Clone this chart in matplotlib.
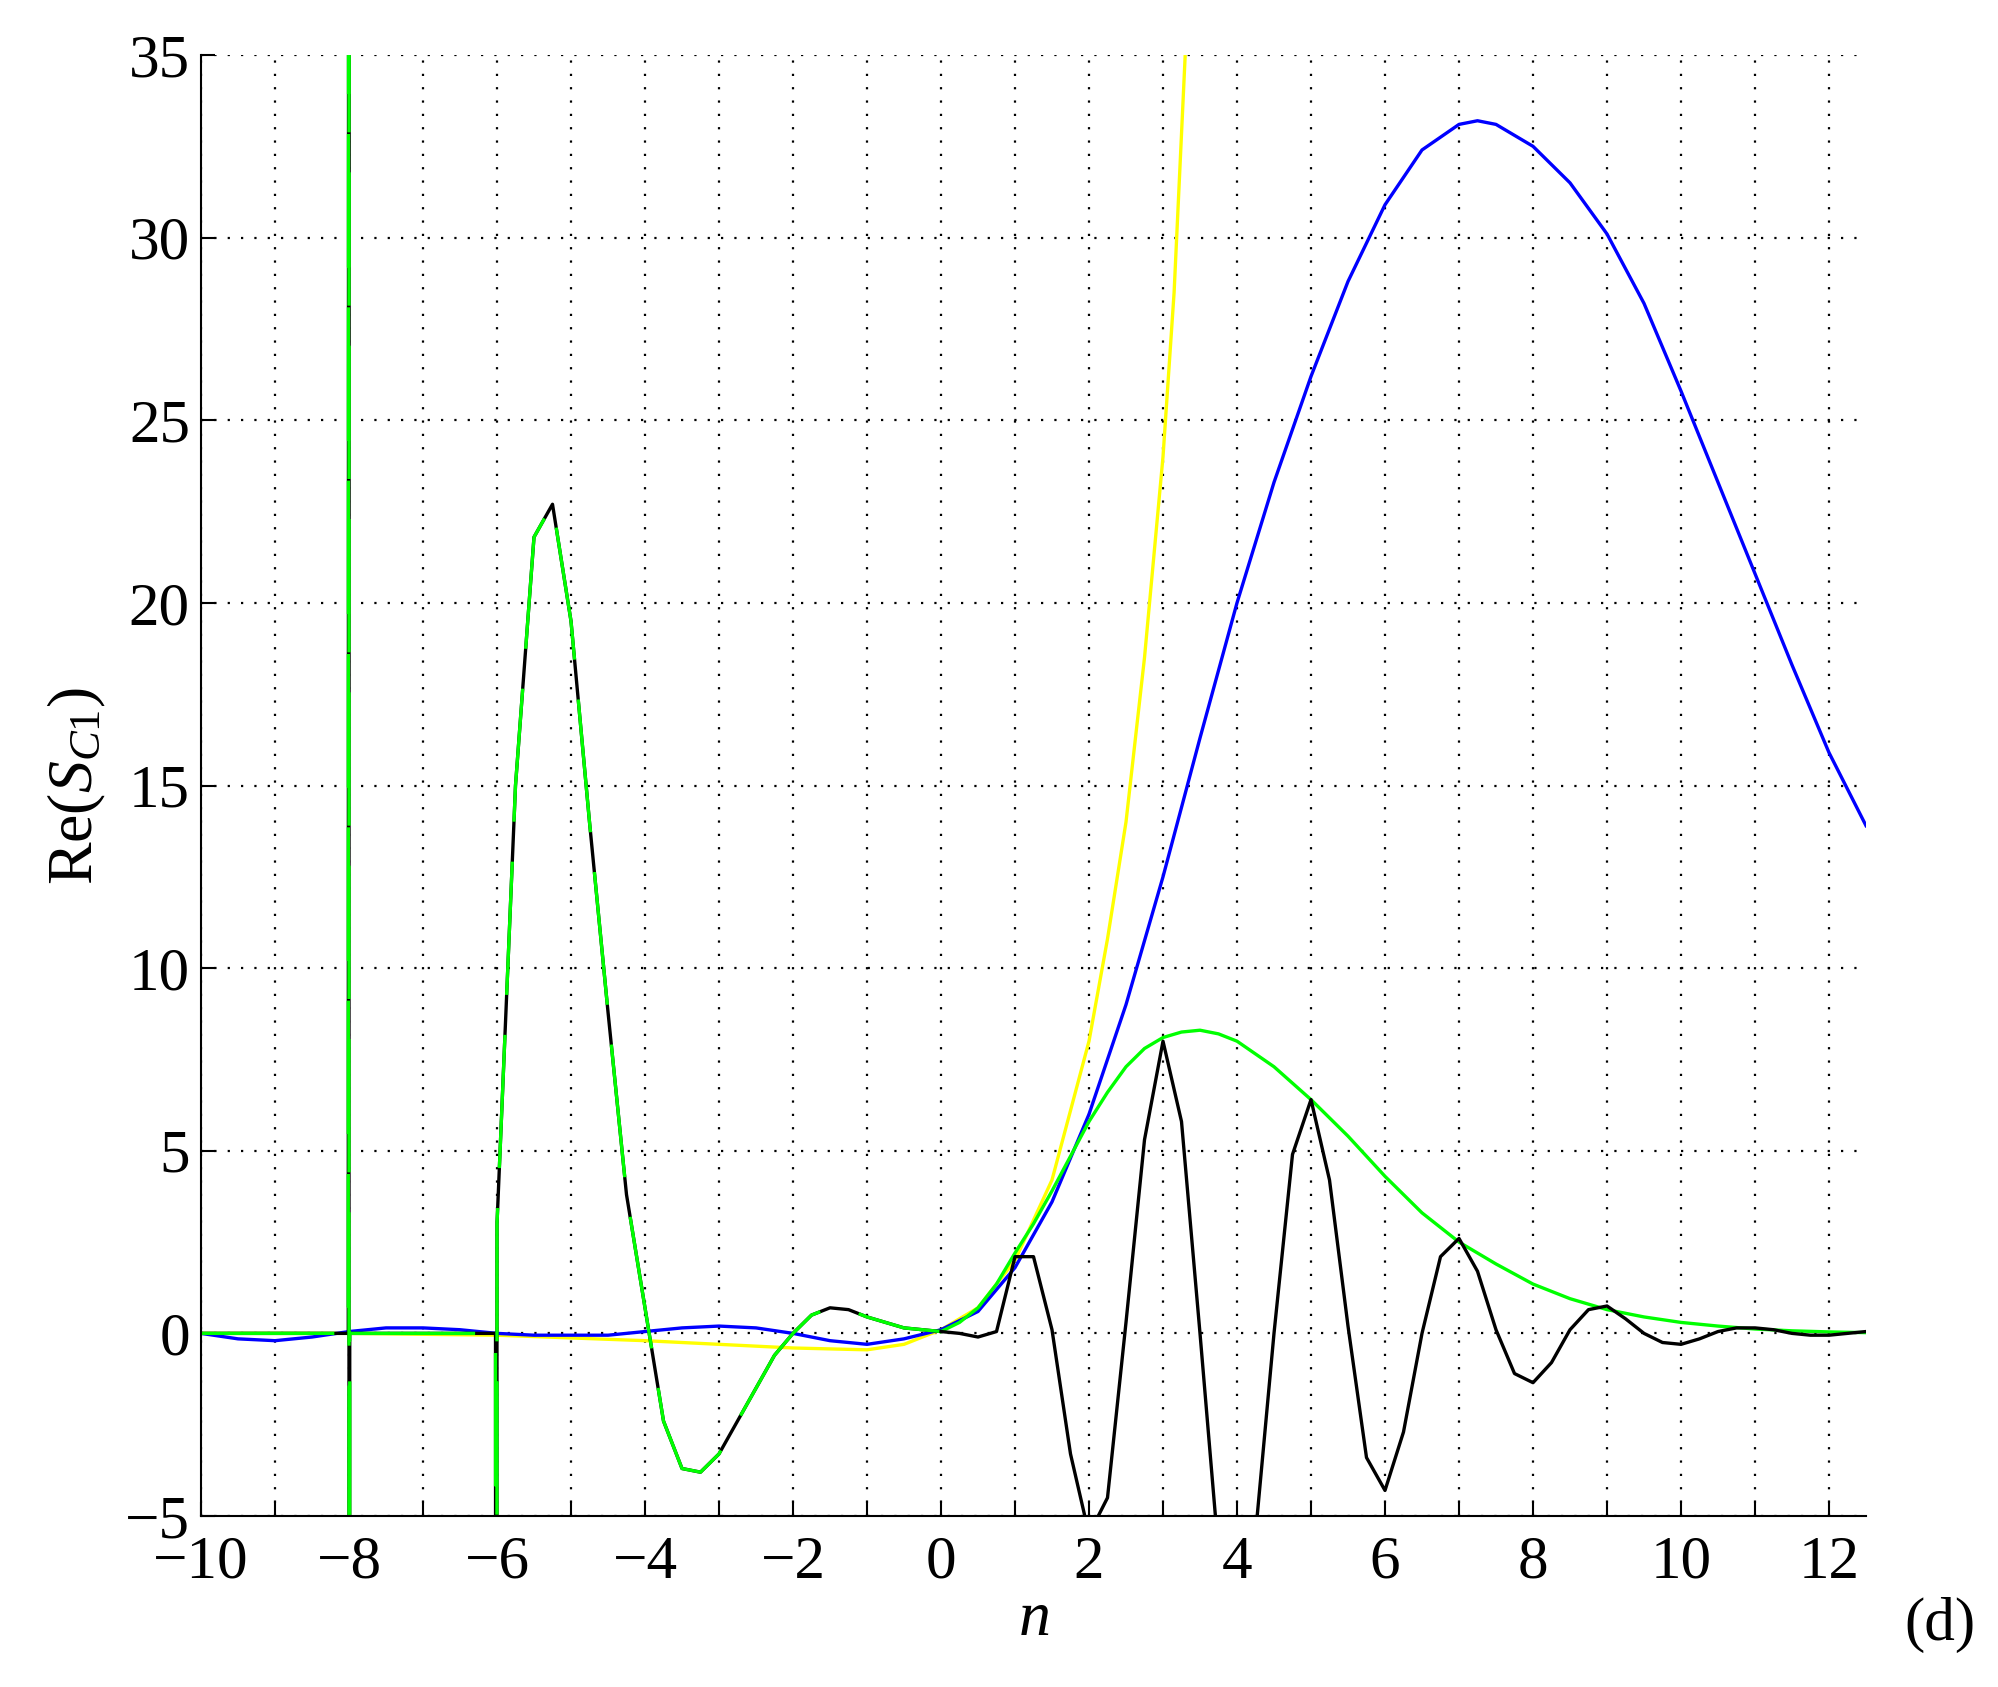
import numpy as np
import matplotlib
matplotlib.use("Agg")
import matplotlib.pyplot as plt

plt.rcParams['font.family'] = ['Liberation Serif', 'DejaVu Serif']
plt.rcParams['mathtext.fontset'] = 'custom'
plt.rcParams['mathtext.it'] = 'Liberation Serif:italic'
plt.rcParams['mathtext.rm'] = 'Liberation Serif'

# left (n<0) part, shared by black and green
left_x = [-10, -9.5, -9, -8.5, -8.25, -8.01, -8.0, -8.0, -7.99, -7.75, -7.5, -7, -6.5,
          -6.25, -6.02, -6.01, -6.0, -5.75, -5.5, -5.25, -5.0, -4.75, -4.5, -4.25, -4.0,
          -3.75, -3.5, -3.25, -3.0, -2.75, -2.5, -2.25, -2.0, -1.75, -1.5, -1.25, -1.0,
          -0.75, -0.5, -0.25, 0.0]
left_y = [0.0, 0.0, 0.0, 0.0, 0.0, 0.0, 100, -100, 0.0, 0.0, 0.0, 0.0, 0.0,
          0.0, 0.0, -100, 3.0, 15.0, 21.8, 22.7, 19.5, 14.0, 8.8, 3.8, 0.7,
          -2.4, -3.7, -3.8, -3.3, -2.4, -1.5, -0.6, 0.0, 0.5, 0.7, 0.65, 0.45,
          0.3, 0.15, 0.1, 0.05]

# black (n>=0)
black_x = [0.0, 0.25, 0.5, 0.75, 1.0, 1.25, 1.5, 1.75, 2.0, 2.25, 2.5, 2.75, 3.0, 3.25,
           3.5, 3.75, 4.0, 4.25, 4.5, 4.75, 5.0, 5.25, 5.5, 5.75, 6.0, 6.25, 6.5, 6.75,
           7.0, 7.25, 7.5, 7.75, 8.0, 8.25, 8.5, 8.75, 9.0, 9.25, 9.5, 9.75, 10.0, 10.25,
           10.5, 10.75, 11.0, 11.25, 11.5, 11.75, 12.0, 12.25, 12.5]
black_y = [0.05, 0.0, -0.1, 0.05, 2.1, 2.1, 0.1, -3.3, -5.5, -4.5, 0.3, 5.3, 8.0, 5.8,
           0.0, -6.0, -9.0, -5.5, 0.0, 4.9, 6.4, 4.2, 0.2, -3.4, -4.3, -2.7, 0.0, 2.1,
           2.6, 1.7, 0.1, -1.1, -1.35, -0.8, 0.1, 0.65, 0.75, 0.4, 0.0, -0.25, -0.3, -0.15,
           0.05, 0.15, 0.15, 0.1, 0.0, -0.05, -0.05, 0.0, 0.05]

# green envelope (n>=0)
green_x = [0.0, 0.25, 0.5, 0.75, 1.0, 1.25, 1.5, 1.75, 2.0, 2.25, 2.5, 2.75, 3.0, 3.25,
           3.5, 3.75, 4.0, 4.5, 5.0, 5.5, 6.0, 6.5, 7.0, 7.5, 8.0, 8.5, 9.0, 9.5,
           10.0, 10.5, 11.0, 11.5, 12.0, 12.5]
green_y = [0.05, 0.3, 0.7, 1.35, 2.2, 3.0, 3.9, 4.85, 5.8, 6.6, 7.3, 7.8, 8.1, 8.25,
           8.3, 8.2, 8.0, 7.3, 6.4, 5.4, 4.3, 3.3, 2.5, 1.9, 1.35, 0.95, 0.65, 0.45,
           0.3, 0.2, 0.12, 0.07, 0.04, 0.02]

# blue
blue_x = [-10, -9.5, -9, -8.5, -8, -7.5, -7, -6.5, -6, -5.5, -5, -4.5, -4, -3.5, -3,
          -2.5, -2, -1.5, -1, -0.5, 0, 0.5, 1, 1.5, 2, 2.5, 3, 3.5, 4, 4.5, 5, 5.5, 6,
          6.5, 7, 7.25, 7.5, 8, 8.5, 9, 9.5, 10, 10.5, 11, 11.5, 12, 12.5]
blue_y = [0.0, -0.15, -0.2, -0.1, 0.05, 0.15, 0.15, 0.1, 0.0, -0.05, -0.05, -0.05, 0.05,
          0.15, 0.2, 0.15, 0.0, -0.2, -0.3, -0.15, 0.1, 0.6, 1.8, 3.6, 6.0, 9.0, 12.5,
          16.3, 20.0, 23.3, 26.2, 28.8, 30.9, 32.4, 33.1, 33.2, 33.1, 32.5, 31.5, 30.1,
          28.2, 25.8, 23.3, 20.8, 18.3, 15.9, 13.9]

# yellow
yellow_x = [-10, -8, -6, -4, -2, -1, -0.5, 0, 0.5, 1, 1.5, 2, 2.25, 2.5, 2.75, 3, 3.15,
            3.3, 3.4]
yellow_y = [0.0, 0.0, -0.05, -0.2, -0.4, -0.45, -0.3, 0.1, 0.7, 2.0, 4.2, 8.0, 10.8,
            14.0, 18.5, 24.0, 28.5, 35.0, 39.0]

fig = plt.figure(figsize=(19.98, 16.87), dpi=100)
ax = fig.add_axes([201/1998, 1 - 1516/1687, (1866-201)/1998, (1516-55)/1687])

lw = 2.4
ax.plot(yellow_x, yellow_y, color='#ffff00', lw=lw)
ax.plot(blue_x, blue_y, color='#0000ff', lw=lw)
ax.plot(left_x, left_y, color='black', lw=lw)
ax.plot(left_x, left_y, color='#00ff00', lw=lw, dashes=(40, 12))
ax.plot(green_x, green_y, color='#00ff00', lw=lw)
ax.plot(black_x, black_y, color='black', lw=lw)

ax.set_xlim(-10, 12.5)
ax.set_ylim(-5, 35)
ax.set_xticks(np.arange(-10, 13, 2))
ax.set_yticks(np.arange(-5, 36, 5))
ax.set_xticklabels(['\u221210', '\u22128', '\u22126', '\u22124', '\u22122', '0', '2', '4',
                    '6', '8', '10', '12'])
ax.set_yticklabels(['\u22125', '0', '5', '10', '15', '20', '25', '30', '35'])
ax.xaxis.set_minor_locator(matplotlib.ticker.MultipleLocator(1))
ax.grid(True, which='both', color='black', linestyle=(0, (1, 5)), lw=1.6)
ax.tick_params(direction='in', labelsize=44, length=10, width=1.5)
ax.tick_params(axis='x', pad=14)
ax.tick_params(axis='y', pad=8)
ax.tick_params(which='minor', direction='in', length=10, width=1.5)
ax.spines['top'].set_visible(False)
ax.spines['right'].set_visible(False)
for s in ['left', 'bottom']:
    ax.spines[s].set_linewidth(1.5)

ax.set_xlabel('$n$', fontsize=46, labelpad=0)
ax.set_ylabel('Re($S_{C1}$)', fontsize=46, labelpad=12)
fig.text(1940/1998, 1 - 1625/1687, '(d)', fontsize=44, ha='center', va='center')

fig.savefig('out.png', dpi=100)
